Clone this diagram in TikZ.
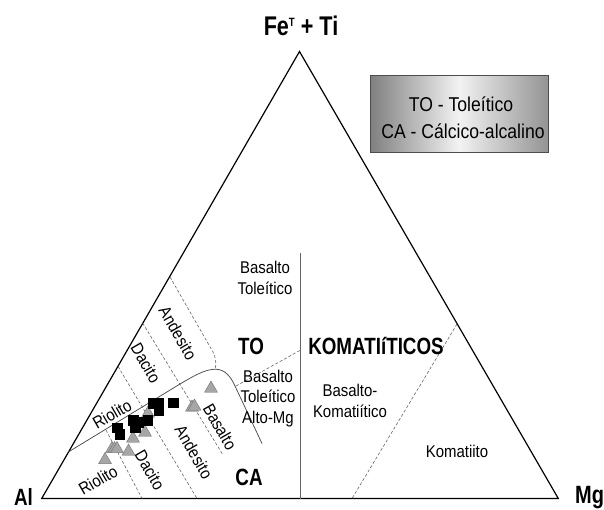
\documentclass[tikz,border=0pt]{standalone}
\usepackage{fontspec}
\setmainfont{Liberation Sans}[FakeStretch=0.88]
\newfontfamily\bfam{Liberation Sans}[FakeStretch=0.8]
\usetikzlibrary{shapes.geometric}
\begin{document}
\begin{tikzpicture}[x=1pt,y=-1pt,
  lab/.style={font=\fontsize{17}{20.5}\selectfont, align=center, inner sep=0pt},
  blab/.style={font=\bfam\bfseries\fontsize{23.5}{26}\selectfont, inner sep=0pt},
  bnd/.style={draw=black!60, line width=0.6pt, dash pattern=on 3pt off 2pt},
  thca/.style={draw=black!70, line width=0.75pt},
  gtri/.style={regular polygon, regular polygon sides=3, minimum size=15pt, inner sep=0pt, fill=black!35, draw=black!55, line width=0.4pt},
  bsq/.style={rectangle, minimum size=9.5pt, inner sep=0pt, fill=black, draw=black}
]
\useasboundingbox (0,0) rectangle (604,509);
\fill[white] (0,0) rectangle (604,509);

% main triangle
\coordinate (A) at (41.7,498.5);
\coordinate (B) at (558.3,498.5);
\coordinate (C) at (299.5,51.5);
\draw[line width=1.2pt, line join=miter] (A) -- (B) -- (C) -- cycle;

% corner labels
\node[blab, font=\bfam\bfseries\fontsize{27}{30}\selectfont] (title) at (301,26) {Fe\raisebox{9.5pt}{\fontsize{12}{12}\selectfont T} + Ti};
\node[blab] (al) at (23.5,497) {Al};
\node[blab, anchor=west, font=\bfam\bfseries\fontsize{25}{28}\selectfont] (mg) at (575,497.5) {Mg};

% legend
\node[draw=black!70, line width=0.6pt, minimum width=178pt, minimum height=77pt,
      left color=black!50, right color=black!42, middle color=black!5] (legend) at (459,113.5) {};
\node[font=\fontsize{20}{24}\selectfont, inner sep=0pt] (leg1) at (461,104) {TO - Toleítico};
\node[font=\fontsize{20}{24}\selectfont, inner sep=0pt] (leg2) at (463,131) {CA - Cálcico-alcalino};

% boundaries
\coordinate (v1) at (300.7,253);
\coordinate (v2) at (300.7,498.5);
\draw[black!60, line width=0.7pt] (v1) -- (v2);
\draw[thca] (68.3,452) -- (180,384) .. controls (200,372) and (208,369) .. (216.5,369.3)
   .. controls (225,369.5) and (231,377) .. (235,386) -- (262,443.5);
\draw[bnd] (236,386) -- (300.7,350);
\draw[bnd] (457,324) -- (352,498.5);
\draw[bnd] (106,430) -- (142,498.5);
\draw[bnd] (118,366.4) -- (197,498.5);
\draw[bnd] (142.6,323) -- (223,455);
\draw[bnd] (170,277) -- (213,352) .. controls (216,358) and (216.5,364) .. (215,369.5);

% labels
\node[lab] (bt) at (265,278) {Basalto\\Toleítico};
\node[blab] (to) at (251,346) {TO};
\node[blab] (kom) at (376,346) {KOMATIíTICOS};
\node[lab] (btam) at (268,398.5) {Basalto\\Toleítico\\Alto-Mg};
\node[lab] (bk) at (350,401) {Basalto-\\Komatiítico};
\node[lab] (komt) at (457,451.5) {Komatiito};
\node[blab] (ca) at (249,477.5) {CA};

\node[lab, rotate=-60] (and1) at (178,333) {Andesito};
\node[lab, rotate=-60] (dac1) at (146,363) {Dacito};
\node[lab, rotate=30] (rio1) at (112,414) {Riolito};
\node[lab, rotate=30] (rio2) at (98,480) {Riolito};
\node[lab, rotate=-60] (dac2) at (150,470) {Dacito};
\node[lab, rotate=-60] (and2) at (194,452) {Andesito};
\node[lab, rotate=-60] (bas2) at (220,427) {Basalto};

% data: triangles
\node[gtri] (t1) at (211,388.5) {};
\node[gtri] (t2a) at (192,407.5) {};
\node[gtri] (t2b) at (194.5,406.5) {};
\node[gtri] (t3) at (148,413.5) {};
\node[gtri] (t4) at (145,432.5) {};
\node[gtri] (t5) at (133,438.5) {};
\node[gtri] (t6a) at (112,449) {};
\node[gtri] (t6b) at (114.5,449) {};
\node[gtri] (t6c) at (117,449) {};
\node[gtri] (t7) at (128.5,451.5) {};
\node[gtri] (t8) at (105,460) {};

% data: squares
\node[bsq] (s1) at (153,403) {};
\node[bsq] (s2) at (158.5,403) {};
\node[bsq] (s3) at (173,402.5) {};
\node[bsq] (s4) at (158.5,410.5) {};
\node[bsq] (s5) at (133,420) {};
\node[bsq] (s6) at (138.5,422) {};
\node[bsq] (s7) at (147.5,420) {};
\node[bsq] (s8) at (135,427) {};
\node[bsq] (s9) at (117,427.5) {};
\node[bsq] (s10) at (119.5,434) {};
\end{tikzpicture}
\end{document}
